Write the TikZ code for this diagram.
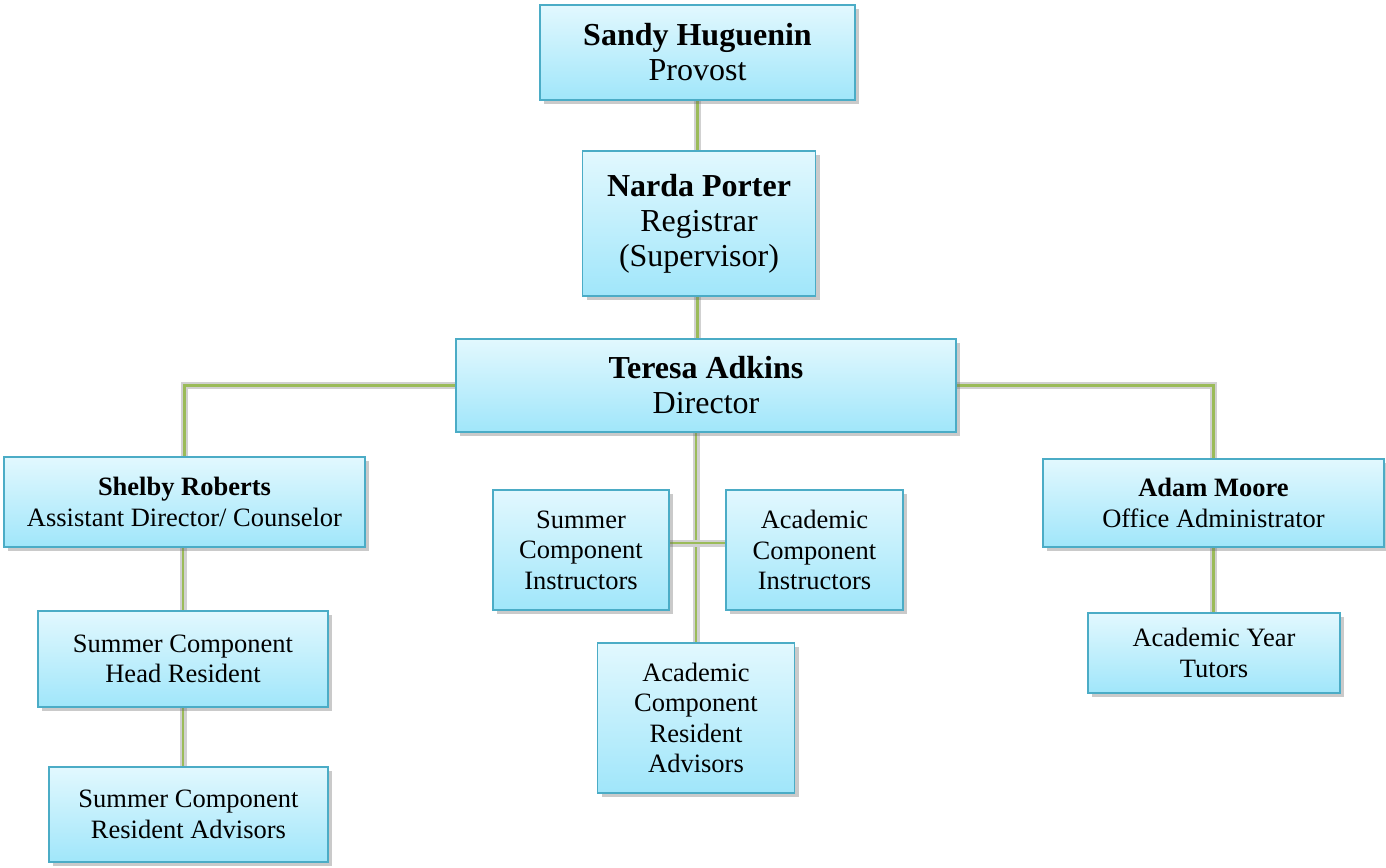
\documentclass[tikz,border=0pt]{standalone}
\usepackage{fontspec}
\setmainfont{Liberation Serif}
\usetikzlibrary{shadows,backgrounds}

\definecolor{boxtop}{RGB}{226,248,254}
\definecolor{boxbottom}{RGB}{160,230,250}
\definecolor{boxline}{RGB}{75,172,198}
\definecolor{linkgreen}{RGB}{155,187,89}

\newcommand{\bigtxt}{\fontsize{32}{35}\selectfont}
\newcommand{\smalltxt}{\fontsize{26.5}{30.5}\selectfont}

\begin{document}
\begin{tikzpicture}[%
      x=1pt, y=1pt,
      orgbox/.style={draw=boxline, line width=1.6pt, top color=boxtop, bottom color=boxbottom,
                     align=center, inner sep=0pt,
                     drop shadow={shadow xshift=4pt, shadow yshift=-4pt, opacity=0.35, fill=black!60}},
      bigbox/.style={orgbox, font=\bigtxt},
      smallbox/.style={orgbox, font=\smalltxt},
      link/.style={draw=linkgreen, line width=2.4pt,
                   preaction={draw=black!18, line width=7pt}},
      ]
      \useasboundingbox (0,0) rectangle (1386,-867);

      % top of the chart
      \node [bigbox, minimum width=315, minimum height=95] (sandy) at (697.5,-52.5)
            {\textbf{Sandy Huguenin}\\Provost};
      \node [bigbox, minimum width=233, minimum height=145] (narda) at (699,-223.5)
            {\textbf{Narda Porter}\\Registrar\\(Supervisor)};
      \node [bigbox, minimum width=500, minimum height=93] (teresa) at (706,-385.5)
            {\textbf{Teresa Adkins}\\Director};

      % left branch
      \node [smallbox, minimum width=361, minimum height=90] (shelby) at (184.5,-502)
            {\textbf{Shelby Roberts}\\Assistant Director/ Counselor};
      \node [smallbox, minimum width=290, minimum height=96] (headres) at (183,-659)
            {Summer Component\\Head Resident};
      \node [smallbox, minimum width=279, minimum height=95] (summra) at (188.5,-814.5)
            {Summer Component\\Resident Advisors};

      % middle branch
      \node [smallbox, minimum width=176, minimum height=120] (suminst) at (581,-550)
            {Summer\\Component\\Instructors};
      \node [smallbox, minimum width=177, minimum height=120] (acadinst) at (814.5,-550)
            {Academic\\Component\\Instructors};
      \node [smallbox, minimum width=197, minimum height=150] (acadra) at (696,-718)
            {Academic\\Component\\Resident\\Advisors};

      % right branch
      \node [smallbox, minimum width=341, minimum height=88] (adam) at (1213.5,-503)
            {\textbf{Adam Moore}\\Office Administrator};
      \node [smallbox, minimum width=252, minimum height=80] (tutors) at (1214,-653)
            {Academic Year\\Tutors};

      % connectors, behind the boxes
      \begin{scope}[on background layer]
      \draw [link] (sandy.south) -- (sandy.south |- narda.north);
      \draw [link] (narda.south -| sandy.south) -- (teresa.north -| sandy.south);
      \draw [link] (teresa.west) -| (shelby.north);
      \draw [link] (teresa.east) -| (adam.north);
      \draw [link] (teresa.south -| acadra.north) -- (acadra.north);
      \draw [link] ([yshift=7]suminst.east) -- ([yshift=7]acadinst.west);
      \draw [link] (shelby.south -| headres.north) -- (headres.north);
      \draw [link] (headres.south) -- (headres.south |- summra.north);
      \draw [link] (adam.south) -- (adam.south |- tutors.north);
      \end{scope}
\end{tikzpicture}
\end{document}
